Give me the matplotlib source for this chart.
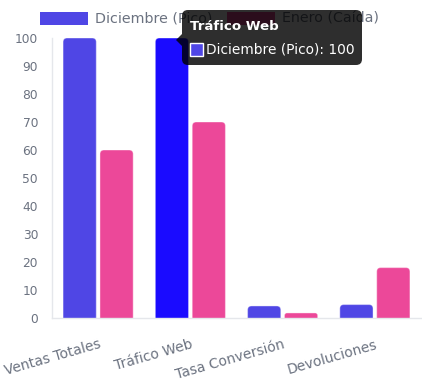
import matplotlib
matplotlib.use("Agg")
import matplotlib.pyplot as plt
import numpy as np
from matplotlib.patches import FancyBboxPatch, Polygon, Rectangle

categories = ["Ventas Totales", "Tráfico Web", "Tasa Conversión", "Devoluciones"]
series_names = ["Diciembre (Pico)", "Enero (Caída)"]
diciembre = [100, 100, 4.3, 4.8]
enero = [60, 70, 1.8, 18]
y_ticks = [0, 10, 20, 30, 40, 50, 60, 70, 80, 90, 100]

BLUE = "#4f46e5"
BLUE_HOVER = "#1a0bff"
PINK = "#ec4899"
GRAY = "#6b7280"
LINE = "#e5e7eb"
hover_index = 1

plt.rcParams["font.family"] = ["DejaVu Sans"]

W, H = 422, 381
fig = plt.figure(figsize=(W / 100, H / 100), dpi=100)


def fx(px):
    return px / W


def fy(py):
    return 1 - py / H


ax = fig.add_axes([fx(52), fy(318), fx(421) - fx(52), fy(38) - fy(318)])

x = np.arange(len(categories))
bw = 0.36
bars_a = ax.bar(x - 0.2, diciembre, bw, color=BLUE)
bars_b = ax.bar(x + 0.2, enero, bw, color=PINK)
bars_a[hover_index].set_color(BLUE_HOVER)

ax.set_xlim(-0.5, len(categories) - 0.5)
ax.set_ylim(0, 100)

# rounded tops (chart.js borderRadius look)
px_x = (fx(421) - fx(52)) * W / 4.0
px_y = (fy(38) - fy(318)) * H / 100.0
for rect in list(bars_a) + list(bars_b):
    x0, w, h = rect.get_x(), rect.get_width(), rect.get_height()
    fc = rect.get_facecolor()
    rect.set_visible(False)
    r = min(4.0, h * px_y / 2) / px_x
    p = FancyBboxPatch((x0, -3), w, h + 3,
                       boxstyle=f"round,pad=0,rounding_size={r}",
                       mutation_aspect=px_x / px_y,
                       facecolor=fc, edgecolor=(1, 1, 1, 0.35), linewidth=0.8)
    ax.add_patch(p)

ax.set_yticks(y_ticks)
ax.set_xticks(x)
ax.set_xticklabels(categories, rotation=16, ha="right", va="top",
                   rotation_mode="anchor", fontsize=10)
ax.tick_params(axis="both", length=0, colors=GRAY)
ax.tick_params(axis="y", pad=10, labelsize=8.8)
ax.tick_params(axis="x", pad=14)
for lbl in ax.get_xticklabels():
    lbl.set_clip_on(False)

for side in ["top", "right"]:
    ax.spines[side].set_visible(False)
for side in ["left", "bottom"]:
    ax.spines[side].set_color(LINE)
    ax.spines[side].set_linewidth(1)

# legend (drawn by hand to match chart.js boxes)
legend_items = [(BLUE, series_names[0], 40), (PINK, series_names[1], 227)]
for col, name, lx in legend_items:
    fig.patches.append(Rectangle((fx(lx), fy(25)), fx(48), fy(12) - fy(25),
                                 transform=fig.transFigure, facecolor=col,
                                 edgecolor="none"))
    fig.text(fx(lx + 55), fy(18.5), name, color=GRAY, fontsize=10.3,
             va="center", ha="left")

# tooltip
tip = FancyBboxPatch((fx(182), fy(65)), fx(362) - fx(182), fy(10) - fy(65),
                     boxstyle="round,pad=0,rounding_size=0.014",
                     transform=fig.transFigure, facecolor=(0, 0, 0, 0.82),
                     edgecolor="none", mutation_aspect=W / H, zorder=10)
fig.patches.append(tip)
caret = Polygon([(fx(176), fy(40)), (fx(182), fy(34)), (fx(182), fy(46))],
                closed=True, transform=fig.transFigure,
                facecolor=(0, 0, 0, 0.82), edgecolor="none", zorder=10)
fig.patches.append(caret)
fig.text(fx(190), fy(26), categories[hover_index], color="white",
         fontsize=9.6, fontweight="bold", va="center", ha="left", zorder=11)
fig.patches.append(Rectangle((fx(190), fy(56)), fx(13), fy(43) - fy(56),
                             transform=fig.transFigure, facecolor=BLUE,
                             edgecolor="white", linewidth=1, zorder=11))
fig.text(fx(206), fy(49.5),
         f"{series_names[0]}: {diciembre[hover_index]:g}", color="white",
         fontsize=9.9, va="center", ha="left", zorder=11)

fig.savefig("out.png", dpi=100)
